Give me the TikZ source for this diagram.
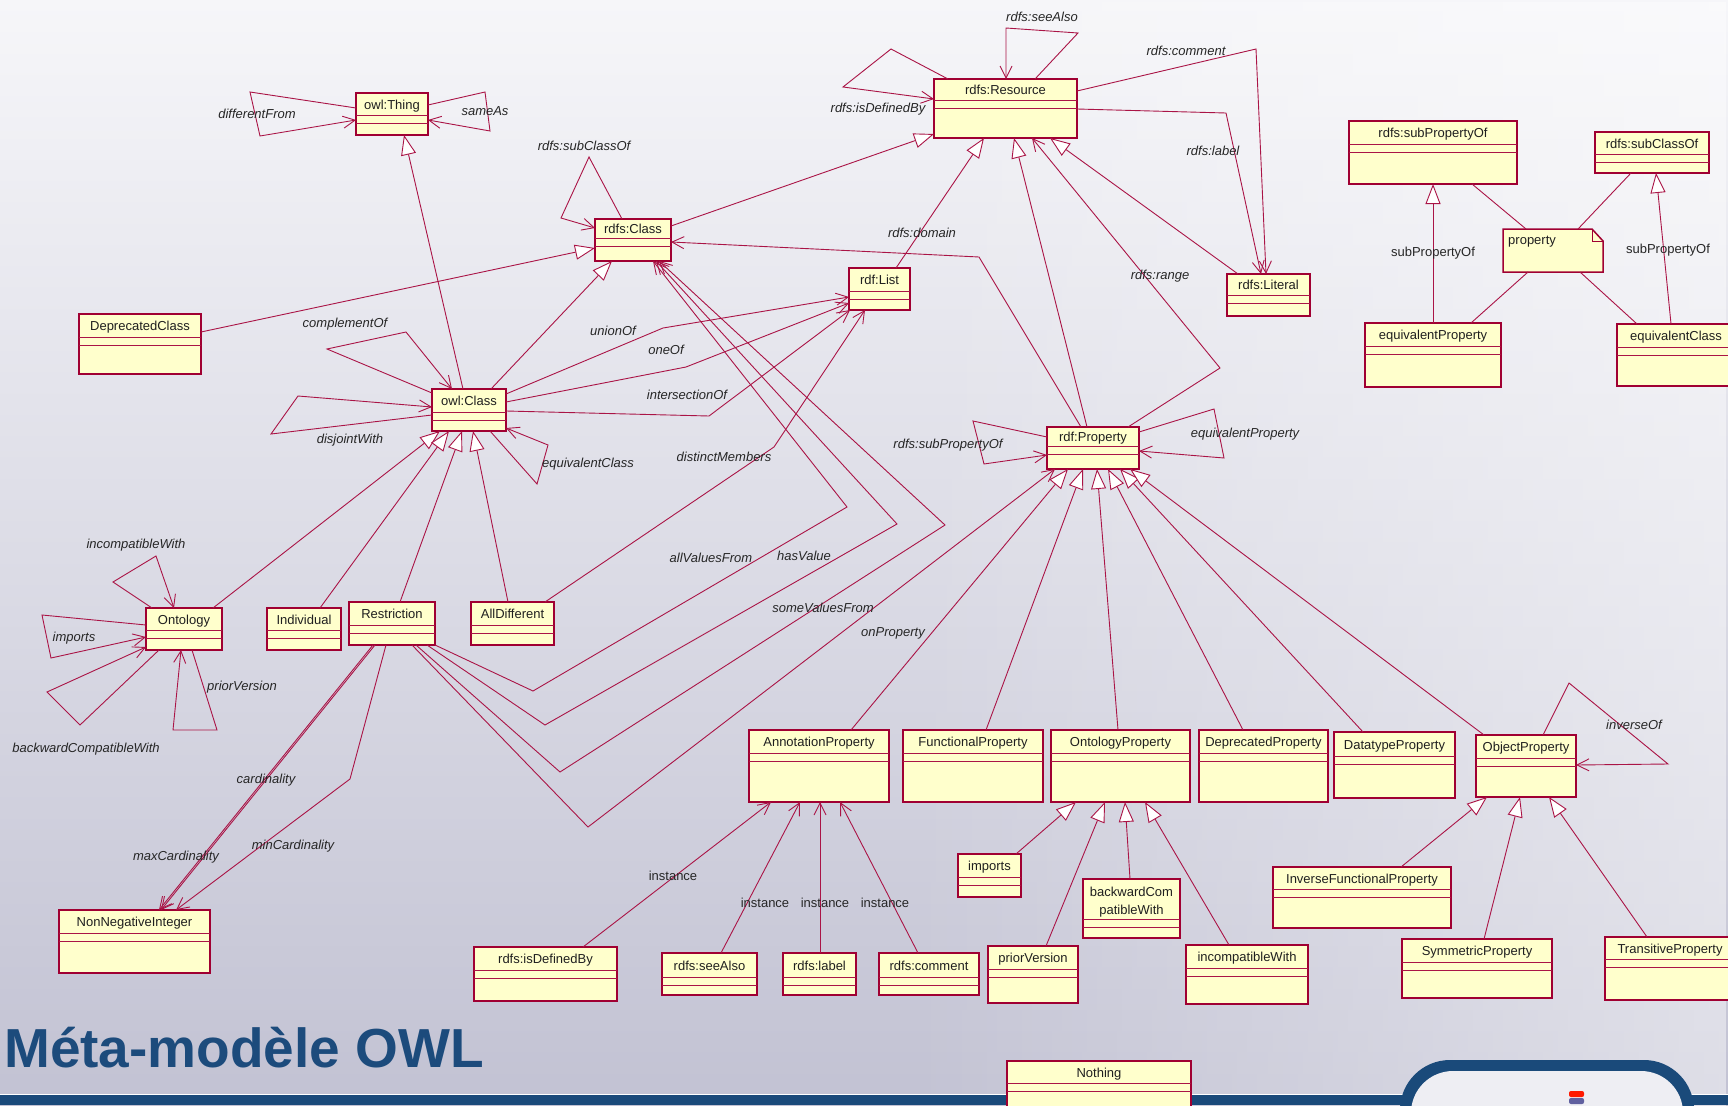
\documentclass[tikz,border=0pt]{standalone}
\usepackage{fontspec}
\setmainfont{Liberation Sans}
\usetikzlibrary{arrows.meta,fadings}
\definecolor{boxfill}{RGB}{255,255,204}
\definecolor{edgeD}{RGB}{160,0,50}
\definecolor{edgeL}{RGB}{205,110,140}
\definecolor{lineC}{RGB}{170,20,70}
\definecolor{titleblue}{RGB}{28,75,124}
\definecolor{bandblue}{RGB}{26,74,122}
\definecolor{bgA}{RGB}{246,246,249}
\definecolor{bgB}{RGB}{194,194,211}
\definecolor{tabwhite}{RGB}{238,238,243}
\tikzfading[name=lightright, left color=transparent!100, right color=transparent!35]
\newcommand\boxfs{\fontsize{13}{15}\selectfont}
\tikzset{
  clsbox/.style={draw=edgeD, fill=boxfill, line width=1.5pt, inner sep=0pt, outer sep=0pt},
  sepline/.style={draw=lineC, line width=1pt},
  clstext/.style={font=\boxfs, text=black!88, inner sep=0pt},
  lbl/.style={font=\boxfs\itshape, text=black!85, inner sep=0pt},
  plbl/.style={font=\boxfs, text=black!85, inner sep=0pt},
  gen/.style={draw=lineC, line width=0.9pt, -{Triangle[length=20pt,width=15pt,fill=white]}},
  assoc/.style={draw=lineC, line width=0.9pt, -{Straight Barb[length=12pt,width=12pt]}},
  plain/.style={draw=lineC, line width=0.9pt},
}
% name, x1, y1, x2, y2, name-compartment height, text
\newcommand\umlcls[7]{%
  \node[clsbox, anchor=north west, minimum width={(#4)-(#2)}, minimum height={(#5)-(#3)}] (#1) at (#2,#3) {};
  \draw[sepline] ([shift={(0,#6)}]#1.north west) -- ([shift={(0,#6)}]#1.north east);
  \draw[sepline] ([shift={(0,#6+8)}]#1.north west) -- ([shift={(0,#6+8)}]#1.north east);
  \node[clstext, anchor=base] (#1-name) at ([shift={(0,#6/2+5)}]#1.north) {#7};
}
\begin{document}
\begin{tikzpicture}[x=1pt,y=-1pt]
\useasboundingbox (0,0) rectangle (1728,1105);
% background
\shade[top color=bgA, bottom color=bgB] (0,0) rectangle (1728,1105);
\fill[white, path fading=lightright, opacity=0.7] (900,0) rectangle (1728,1105);
\fill[bandblue] (0,1095) rectangle (1728,1105);
\draw[white, line width=1pt] (0,1094) -- (1728,1094);
\fill[bandblue, rounded corners=50pt] (1400,1250) -- (1400,1060) -- (1694,1060) -- (1694,1250) -- cycle;
\fill[tabwhite, rounded corners=42pt] (1411,1250) -- (1411,1071) -- (1683,1071) -- (1683,1250) -- cycle;
\fill[red!80!orange, rounded corners=2pt] (1569,1091) rectangle (1584,1097);
\fill[blue!25!gray, rounded corners=2pt] (1569,1098) rectangle (1584,1104);

% title
\node[anchor=base west, font=\bfseries\fontsize{55}{60}\selectfont, text=titleblue, inner sep=0pt] (title) at (4,1067) {Méta-modèle OWL};

% classes
\umlcls{owlThing}{356}{93}{428}{135}{23}{owl:Thing}
\umlcls{rdfsClass}{595}{219}{671}{261}{19}{rdfs:Class}
\umlcls{deprClass}{79}{314}{201}{374}{23}{DeprecatedClass}
\umlcls{owlClass}{432}{389}{506}{431}{23}{owl:Class}
\umlcls{rdfsResource}{934}{79}{1077}{138}{22}{rdfs:Resource}
\umlcls{rdfList}{849}{268}{910}{310}{23}{rdf:List}
\umlcls{rdfsLiteral}{1227}{274}{1310}{316}{21}{rdfs:Literal}
\umlcls{rdfProperty}{1047}{427}{1139}{469}{19}{rdf:Property}
\umlcls{subPropOf}{1349}{121}{1517}{184}{23}{rdfs:subPropertyOf}
\umlcls{subClassOf}{1595}{132}{1709}{173}{22}{rdfs:subClassOf}
\umlcls{equivProp}{1365}{323}{1501}{387}{23}{equivalentProperty}
\umlcls{equivClass}{1617}{324}{1735}{386}{23}{equivalentClass}
\umlcls{ontology}{146}{608}{222}{650}{22}{Ontology}
\umlcls{individual}{267}{608}{341}{650}{22}{Individual}
\umlcls{restriction}{349}{602}{435}{645}{23}{Restriction}
\umlcls{allDifferent}{471}{602}{554}{645}{23}{AllDifferent}
\umlcls{annotProp}{749}{730}{889}{802}{23}{AnnotationProperty}
\umlcls{functProp}{903}{730}{1043}{802}{23}{FunctionalProperty}
\umlcls{ontProp}{1051}{730}{1190}{802}{23}{OntologyProperty}
\umlcls{deprProp}{1199}{730}{1328}{802}{23}{DeprecatedProperty}
\umlcls{datatypeProp}{1334}{732}{1455}{798}{24}{DatatypeProperty}
\umlcls{objectProp}{1476}{735}{1576}{797}{23}{ObjectProperty}
\umlcls{invFunctProp}{1273}{867}{1451}{928}{22}{InverseFunctionalProperty}
\umlcls{symProp}{1402}{939}{1552}{998}{23}{SymmetricProperty}
\umlcls{transProp}{1605}{937}{1735}{1000}{22}{TransitiveProperty}
\umlcls{importsC}{958}{854}{1021}{897}{23}{imports}
\umlcls{backCompat}{1083}{879}{1180}{938}{40}{}
\node[clstext, anchor=base] (backCompat-l1) at ([shift={(0,17)}]backCompat.north) {backwardCom};
\node[clstext, anchor=base] (backCompat-l2) at ([shift={(0,35)}]backCompat.north) {patibleWith};
\umlcls{priorVersionC}{988}{946}{1078}{1003}{23}{priorVersion}
\umlcls{incompatWith}{1186}{945}{1308}{1004}{23}{incompatibleWith}
\umlcls{isDefinedBy}{474}{947}{617}{1001}{23}{rdfs:isDefinedBy}
\umlcls{seeAlso}{662}{953}{757}{995}{24}{rdfs:seeAlso}
\umlcls{rdfsLabel}{783}{953}{856}{995}{24}{rdfs:label}
\umlcls{rdfsComment}{879}{953}{979}{995}{24}{rdfs:comment}
\umlcls{nothing}{1007}{1061}{1191}{1120}{22}{Nothing}
\umlcls{nonNegInt}{59}{910}{210}{973}{23}{NonNegativeInteger}

% note
\node[inner sep=0pt, outer sep=0pt, minimum width=100, minimum height=43, anchor=north west] (note) at (1503,229) {};
\draw[fill=boxfill, draw=edgeD, line width=1.5pt] (note.north west) -- ([shift={(-11,0)}]note.north east) -- ([shift={(0,12)}]note.north east) -- (note.south east) -- (note.south west) -- cycle;
\draw[draw=edgeD, line width=1pt] ([shift={(-11,0)}]note.north east) -- ([shift={(-11,12)}]note.north east) -- ([shift={(0,12)}]note.north east);
\node[clstext, anchor=base west] (note-name) at ([shift={(5,15)}]note.north west) {property};

% generalizations
\draw[gen] ([shift={(31,0)}]owlClass.north west) -- ([shift={(48,42)}]owlThing.north west);
\draw[gen] ([shift={(122,18)}]deprClass.north west) -- ([shift={(0,29)}]rdfsClass.north west);
\draw[gen] ([shift={(59,0)}]owlClass.north west) -- ([shift={(17,42)}]rdfsClass.north west);
\draw[gen] ([shift={(76,7)}]rdfsClass.north west) -- ([shift={(0,55)}]rdfsResource.north west);
\draw[gen] ([shift={(47,0)}]rdfList.north west) -- ([shift={(50,59)}]rdfsResource.north west);
\draw[gen] ([shift={(40,0)}]rdfProperty.north west) -- ([shift={(80,59)}]rdfsResource.north west);
\draw[gen] ([shift={(11,0)}]rdfsLiteral.north west) -- ([shift={(116,59)}]rdfsResource.north west);
\draw[gen] ([shift={(67,0)}]ontology.north west) -- ([shift={(8,42)}]owlClass.north west);
\draw[gen] ([shift={(53,0)}]individual.north west) -- ([shift={(17,42)}]owlClass.north west);
\draw[gen] ([shift={(51,0)}]restriction.north west) -- ([shift={(30,42)}]owlClass.north west);
\draw[gen] ([shift={(37,0)}]allDifferent.north west) -- ([shift={(41,42)}]owlClass.north west);
\draw[gen] ([shift={(102,0)}]annotProp.north west) -- ([shift={(21,42)}]rdfProperty.north west);
\draw[gen] ([shift={(83,0)}]functProp.north west) -- ([shift={(36,42)}]rdfProperty.north west);
\draw[gen] ([shift={(67,0)}]ontProp.north west) -- ([shift={(50,42)}]rdfProperty.north west);
\draw[gen] ([shift={(44,0)}]deprProp.north west) -- ([shift={(61,42)}]rdfProperty.north west);
\draw[gen] ([shift={(29,0)}]datatypeProp.north west) -- ([shift={(73,42)}]rdfProperty.north west);
\draw[gen] ([shift={(8,0)}]objectProp.north west) -- ([shift={(83,42)}]rdfProperty.north west);
\draw[gen] ([shift={(58,0)}]importsC.north west) -- ([shift={(25,72)}]ontProp.north west);
\draw[gen] ([shift={(58,0)}]priorVersionC.north west) -- ([shift={(54,72)}]ontProp.north west);
\draw[gen] ([shift={(47,0)}]backCompat.north west) -- ([shift={(74,72)}]ontProp.north west);
\draw[gen] ([shift={(43,0)}]incompatWith.north west) -- ([shift={(94,72)}]ontProp.north west);
\draw[gen] ([shift={(128,0)}]invFunctProp.north west) -- ([shift={(11,62)}]objectProp.north west);
\draw[gen] ([shift={(82,0)}]symProp.north west) -- ([shift={(44,62)}]objectProp.north west);
\draw[gen] ([shift={(42,0)}]transProp.north west) -- ([shift={(73,62)}]objectProp.north west);
\draw[gen] ([shift={(68,0)}]equivProp.north west) -- ([shift={(84,63)}]subPropOf.north west);
\draw[gen] ([shift={(54,0)}]equivClass.north west) -- ([shift={(61,41)}]subClassOf.north west);
% note links
\draw[plain] ([shift={(123,63)}]subPropOf.north west) -- ([shift={(23,0)}]note.north west);
\draw[plain] ([shift={(36,41)}]subClassOf.north west) -- ([shift={(75,0)}]note.north west);
\draw[plain] ([shift={(25,43)}]note.north west) -- ([shift={(106,0)}]equivProp.north west);
\draw[plain] ([shift={(77,43)}]note.north west) -- ([shift={(20,0)}]equivClass.north west);

% associations
\draw[assoc] ([shift={(0,15)}]owlThing.north west) -- (250,92) -- (260,136) -- ([shift={(0,27)}]owlThing.north west);
\draw[assoc] ([shift={(72,12)}]owlThing.north west) -- (485,92) -- (490,131) -- ([shift={(72,27)}]owlThing.north west);
\draw[assoc] ([shift={(27,0)}]rdfsClass.north west) -- (589,157) -- (561,218) -- ([shift={(0,9)}]rdfsClass.north west);
\draw[assoc] ([shift={(0,4)}]owlClass.north west) -- (327,349) -- (406,332) -- ([shift={(20,0)}]owlClass.north west);
\draw[assoc] ([shift={(0,26)}]owlClass.north west) -- (271,434) -- (298,396) -- ([shift={(0,18)}]owlClass.north west);
\draw[assoc] ([shift={(58,42)}]owlClass.north west) -- (537,484) -- (548,445) -- ([shift={(74,39)}]owlClass.north west);
\draw[assoc] ([shift={(74,5)}]owlClass.north west) -- (663,328) -- ([shift={(0,29)}]rdfList.north west);
\draw[assoc] ([shift={(74,13)}]owlClass.north west) -- (686,367) -- ([shift={(0,35)}]rdfList.north west);
\draw[assoc] ([shift={(74,22)}]owlClass.north west) -- (709,416) -- ([shift={(1,42)}]rdfList.north west);
\draw[assoc] ([shift={(74,0)}]allDifferent.north west) -- (774,447) -- ([shift={(16,42)}]rdfList.north west);
\draw[assoc] ([shift={(34,0)}]rdfProperty.north west) -- (979,257) -- ([shift={(76,23)}]rdfsClass.north west);
\draw[assoc] ([shift={(81,0)}]rdfProperty.north west) -- (1220,368) -- ([shift={(98,59)}]rdfsResource.north west);
\draw[assoc] ([shift={(0,10)}]rdfProperty.north west) -- (973,421) -- (984,464) -- ([shift={(0,28)}]rdfProperty.north west);
\draw[assoc] ([shift={(92,5)}]rdfProperty.north west) -- (1214,409) -- (1224,458) -- ([shift={(92,24)}]rdfProperty.north west);
\draw[assoc] ([shift={(14,0)}]rdfsResource.north west) -- (891,49) -- (843,87) -- ([shift={(0,20)}]rdfsResource.north west);
\draw[assoc] ([shift={(101,0)}]rdfsResource.north west) -- (1078,33) -- (1006,28) -- ([shift={(72,0)}]rdfsResource.north west);
\draw[assoc] ([shift={(143,12)}]rdfsResource.north west) -- (1256,49) -- ([shift={(39,0)}]rdfsLiteral.north west);
\draw[assoc] ([shift={(143,30)}]rdfsResource.north west) -- (1226,113) -- ([shift={(34,0)}]rdfsLiteral.north west);
\draw[assoc] ([shift={(6,0)}]ontology.north west) -- (113,582) -- (156,556) -- ([shift={(28,0)}]ontology.north west);
\draw[assoc] ([shift={(0,17)}]ontology.north west) -- (42,615) -- (51,658) -- ([shift={(0,29)}]ontology.north west);
\draw[assoc] ([shift={(13,42)}]ontology.north west) -- (80,725) -- (47,692) -- ([shift={(0,39)}]ontology.north west);
\draw[assoc] ([shift={(46,42)}]ontology.north west) -- (217,730) -- (173,730) -- ([shift={(35,42)}]ontology.north west);
\draw[assoc] ([shift={(26,43)}]restriction.north west) -- ([shift={(102,0)}]nonNegInt.north west);
\draw[assoc] ([shift={(24,43)}]restriction.north west) -- ([shift={(100,0)}]nonNegInt.north west);
\draw[assoc] ([shift={(37,43)}]restriction.north west) -- (350,779) -- ([shift={(117,0)}]nonNegInt.north west);
\draw[assoc] ([shift={(86,43)}]restriction.north west) -- (533,691) -- (847,507) -- ([shift={(58,42)}]rdfsClass.north west);
\draw[assoc] ([shift={(78,43)}]restriction.north west) -- (545,725) -- (897,524) -- ([shift={(61,42)}]rdfsClass.north west);
\draw[assoc] ([shift={(67,43)}]restriction.north west) -- (560,772) -- (945,525) -- ([shift={(64,42)}]rdfsClass.north west);
\draw[assoc] ([shift={(63,43)}]restriction.north west) -- (588,827) -- ([shift={(8,42)}]rdfProperty.north west);
\draw[assoc] ([shift={(109,0)}]isDefinedBy.north west) -- ([shift={(22,72)}]annotProp.north west);
\draw[assoc] ([shift={(59,0)}]seeAlso.north west) -- ([shift={(51,72)}]annotProp.north west);
\draw[assoc] ([shift={(37,0)}]rdfsLabel.north west) -- ([shift={(71,72)}]annotProp.north west);
\draw[assoc] ([shift={(39,0)}]rdfsComment.north west) -- ([shift={(91,72)}]annotProp.north west);
\draw[assoc] ([shift={(67,0)}]objectProp.north west) -- (1569,683) -- (1668,764) -- ([shift={(100,30)}]objectProp.north west);

% labels
\node[lbl] (l1) at (257,114) {differentFrom};
\node[lbl] (l2) at (485,111) {sameAs};
\node[lbl] (l3) at (584,146) {rdfs:subClassOf};
\node[lbl] (l4) at (1042,17) {rdfs:seeAlso};
\node[lbl] (l5) at (1186,51) {rdfs:comment};
\node[lbl] (l6) at (878,109) {rdfs:isDefinedBy};
\node[lbl] (l7) at (1213,151) {rdfs:label};
\node[lbl] (l8) at (922,233) {rdfs:domain};
\node[lbl] (l9) at (1160,276) {rdfs:range};
\node[lbl] (l10) at (345,324) {complementOf};
\node[lbl] (l11) at (613,331) {unionOf};
\node[lbl] (l12) at (666,350) {oneOf};
\node[lbl] (l13) at (687,395) {intersectionOf};
\node[lbl] (l14) at (350,440) {disjointWith};
\node[lbl] (l15) at (588,464) {equivalentClass};
\node[lbl] (l16) at (724,457) {distinctMembers};
\node[lbl] (l17) at (948,445) {rdfs:subPropertyOf};
\node[lbl] (l18) at (1245,434) {equivalentProperty};
\node[lbl] (l19) at (136,545) {incompatibleWith};
\node[lbl] (l20) at (711,558) {allValuesFrom};
\node[lbl] (l21) at (804,556) {hasValue};
\node[lbl] (l22) at (823,608) {someValuesFrom};
\node[lbl] (l23) at (893,633) {onProperty};
\node[lbl] (l24) at (74,638) {imports};
\node[lbl] (l25) at (242,687) {priorVersion};
\node[lbl] (l26) at (86,749) {backwardCompatibleWith};
\node[lbl] (l27) at (266,780) {cardinality};
\node[lbl] (l28) at (176,857) {maxCardinality};
\node[lbl] (l29) at (293,846) {minCardinality};
\node[lbl] (l30) at (1634,725) {inverseOf};
\node[plbl] (l31) at (673,876) {instance};
\node[plbl] (l32) at (765,903) {instance};
\node[plbl] (l33) at (825,903) {instance};
\node[plbl] (l34) at (885,903) {instance};
\node[plbl] (l35) at (1433,253) {subPropertyOf};
\node[plbl] (l36) at (1668,250) {subPropertyOf};
\end{tikzpicture}
\end{document}
